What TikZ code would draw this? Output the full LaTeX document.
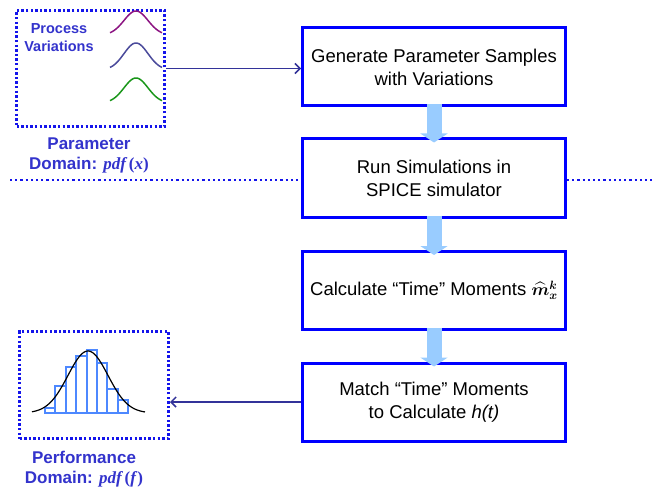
\documentclass[tikz,border=0pt]{standalone}
\usepackage{fontspec}
\usepackage{amsmath}
\usepackage{amssymb}
\usepackage{bm}
\setmainfont{Liberation Sans}
\newfontfamily\pdffont{Liberation Serif}
\newcommand{\pdfof}[1]{{\pdffont\bfseries\itshape pdf\,}{\pdffont\bfseries(}{\pdffont\bfseries\itshape #1\/}{\pdffont\bfseries)}}
\usetikzlibrary{calc,arrows.meta}
\definecolor{boxblue}{RGB}{0,0,255}
\definecolor{dotblue}{RGB}{20,20,235}
\definecolor{labelblue}{RGB}{51,51,204}
\definecolor{linkblue}{RGB}{51,51,153}
\definecolor{flowblue}{RGB}{153,204,255}
\definecolor{histblue}{RGB}{77,136,255}
\definecolor{pdfpurple}{RGB}{140,20,130}
\definecolor{pdfslate}{RGB}{75,75,155}
\definecolor{pdfgreen}{RGB}{25,150,25}

\tikzset{
  procbox/.style={draw=boxblue, line width=3pt, fill=white, minimum width=263pt,
    minimum height=78pt, align=center, font=\fontsize{18.5}{23}\selectfont},
  domainbox/.style={draw=dotblue, line width=3pt, dash pattern=on 2.4pt off 2.2pt},
  domainlabel/.style={labelblue, align=center, font=\fontsize{17}{20}\selectfont\bfseries},
  sepline/.style={dotblue, line width=2.4pt, dash pattern=on 2.2pt off 3pt},
  flowarrow/.style={flowblue, line width=15pt, -{Triangle[width=27pt,length=9pt]}},
  linkarrow/.style={linkblue, line width=1.5pt, -{Straight Barb[length=5pt,width=10pt]}}
}

\begin{document}
\begin{tikzpicture}[x=1pt,y=-1pt]
\useasboundingbox (0,0) rectangle (652,489);

% Dotted separator between the domains
\coordinate (sepL) at (10,180);
\coordinate (sepR) at (652,180);

% Flow steps
\node[procbox] (gen) at (434,67) {Generate Parameter Samples\\with Variations};
\node[procbox] (run) at (434,178) {Run Simulations in\\SPICE simulator};
\node[procbox] (calc) at (434,290.5) {Calculate “Time” Moments\ $\bm{\widehat{m}_{x}^{k}}$};
\node[procbox] (match) at (434,402) {Match “Time” Moments\\to Calculate \textit{h(t)}};

\draw[sepline] (sepL) -- (sepL -| run.west);
\draw[sepline] (run.east |- sepR) -- (sepR);

% Parameter domain
\node[domainbox, minimum width=148pt, minimum height=116pt] (param) at (90.5,68.5) {};
\node[labelblue, align=center, font=\fontsize{14.5}{18}\selectfont\bfseries] (procvar) at (59,38) {Process\\Variations};
\draw[pdfpurple, line width=1.5pt] plot[domain=-26:26, samples=60, smooth] ({136+\x},{35-24*exp(-\x*\x/288)});
\draw[pdfslate, line width=1.5pt] plot[domain=-26:26, samples=60, smooth] ({136+\x},{70-27*exp(-\x*\x/288)});
\draw[pdfgreen, line width=1.5pt] plot[domain=-26:26, samples=60, smooth] ({136+\x},{103-25*exp(-\x*\x/288)});
\node[domainlabel] (paramlbl) at (89,155) {Parameter\\Domain: \pdfof{x}};

% Performance domain
\node[domainbox, minimum width=149pt, minimum height=107pt] (perf) at (94,385) {};
\foreach \i/\h in {0/407.7,1/385.7,2/366.7,3/356,4/350,5/363.3,6/389.3,7/400} {
  \draw[histblue, line width=2pt] ({45+10.4*\i},413) rectangle ({55.4+10.4*\i},\h);
}
\draw[black, line width=1.2pt] plot[domain=-56:57, samples=80, smooth] ({88+\x},{413-62*exp(-\x*\x/800)});
\node[domainlabel] (perflbl) at (84,469) {Performance\\Domain: \pdfof{f}};

% Arrows
\draw[flowarrow] ([yshift=3pt]gen.south) -- ([yshift=-5pt]run.north);
\draw[flowarrow] ([yshift=3pt]run.south) -- ([yshift=-5pt]calc.north);
\draw[flowarrow] ([yshift=3pt]calc.south) -- ([yshift=-5pt]match.north);
\draw[linkarrow] (param.east) -- (param.east -| gen.west);
\draw[linkarrow] (match.west) -- (match.west -| perf.east);
\end{tikzpicture}
\end{document}
